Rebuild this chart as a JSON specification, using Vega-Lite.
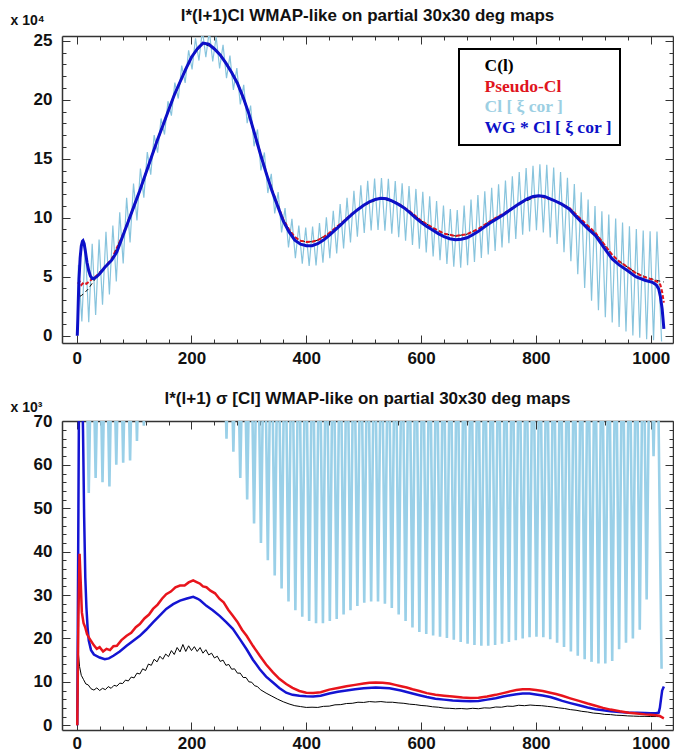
{
"$schema": "https://vega.github.io/schema/vega-lite/v6.json",
"padding": {"left": 10, "top": 6, "right": 0, "bottom": 0},
"background": "white",
"config": {
 "font": "Liberation Sans",
 "view": {"stroke": null},
 "axis": {"domainColor": "#333333", "domainWidth": 1.5, "tickColor": "#333333", "tickWidth": 1, "labelFont": "Liberation Sans", "labelFontWeight": "bold", "labelFontSize": 17, "labelColor": "#111111", "grid": false, "titleFont": "Liberation Sans", "titleFontWeight": "bold", "titleFontSize": 14, "titleColor": "#111111"},
 "title": {"font": "Liberation Sans", "fontSize": 17, "fontWeight": "bold", "color": "#111111", "anchor": "middle"},
 "concat": {"spacing": 20}
},
"datasets": {
 "t_lb": [{"l":2,"v":3.5},{"l":3,"v":6.0},{"l":9,"v":1.2},{"l":15,"v":7.7},{"l":21,"v":1.15},{"l":27,"v":7.8},{"l":33,"v":1.75},{"l":39,"v":8.15},{"l":45,"v":2.63},{"l":51,"v":8.8},{"l":57,"v":3.5},{"l":63,"v":9.34},{"l":69,"v":4.6},{"l":75,"v":10.45},{"l":81,"v":6.12},{"l":87,"v":11.68},{"l":93,"v":7.9},{"l":99,"v":12.9},{"l":105,"v":9.77},{"l":111,"v":14.17},{"l":117,"v":11.7},{"l":123,"v":15.56},{"l":129,"v":13.64},{"l":135,"v":17.0},{"l":141,"v":15.52},{"l":147,"v":18.41},{"l":153,"v":17.05},{"l":159,"v":19.87},{"l":165,"v":18.65},{"l":171,"v":21.45},{"l":177,"v":20.1},{"l":183,"v":22.89},{"l":189,"v":21.42},{"l":195,"v":24.19},{"l":201,"v":22.57},{"l":207,"v":25.2},{"l":213,"v":23.32},{"l":219,"v":25.89},{"l":225,"v":23.6},{"l":231,"v":25.83},{"l":237,"v":23.24},{"l":243,"v":25.34},{"l":249,"v":22.65},{"l":255,"v":24.65},{"l":261,"v":21.82},{"l":267,"v":23.74},{"l":273,"v":20.83},{"l":279,"v":22.69},{"l":285,"v":19.6},{"l":291,"v":21.26},{"l":297,"v":18.02},{"l":303,"v":19.5},{"l":309,"v":16.05},{"l":315,"v":17.48},{"l":321,"v":14.0},{"l":327,"v":15.53},{"l":333,"v":12.09},{"l":339,"v":13.72},{"l":345,"v":10.37},{"l":351,"v":12.17},{"l":357,"v":8.75},{"l":363,"v":10.81},{"l":369,"v":7.48},{"l":375,"v":9.9},{"l":381,"v":6.57},{"l":387,"v":9.34},{"l":393,"v":6.1},{"l":399,"v":9.16},{"l":405,"v":5.92},{"l":411,"v":9.24},{"l":417,"v":5.95},{"l":423,"v":9.54},{"l":429,"v":6.18},{"l":435,"v":10.03},{"l":441,"v":6.57},{"l":447,"v":10.59},{"l":453,"v":6.97},{"l":459,"v":11.15},{"l":465,"v":7.39},{"l":471,"v":11.68},{"l":477,"v":7.9},{"l":483,"v":12.29},{"l":489,"v":8.38},{"l":495,"v":12.75},{"l":501,"v":8.71},{"l":507,"v":13.12},{"l":513,"v":8.92},{"l":519,"v":13.32},{"l":525,"v":8.96},{"l":531,"v":13.36},{"l":537,"v":8.89},{"l":543,"v":13.3},{"l":549,"v":8.64},{"l":555,"v":13.11},{"l":561,"v":8.35},{"l":567,"v":12.92},{"l":573,"v":8.04},{"l":579,"v":12.69},{"l":585,"v":7.69},{"l":591,"v":12.44},{"l":597,"v":7.37},{"l":603,"v":12.2},{"l":609,"v":7.05},{"l":615,"v":11.81},{"l":621,"v":6.72},{"l":627,"v":11.42},{"l":633,"v":6.39},{"l":639,"v":11.04},{"l":645,"v":6.08},{"l":651,"v":10.74},{"l":657,"v":5.85},{"l":663,"v":10.66},{"l":669,"v":5.77},{"l":675,"v":11.03},{"l":681,"v":5.98},{"l":687,"v":11.53},{"l":693,"v":6.24},{"l":699,"v":11.92},{"l":705,"v":6.58},{"l":711,"v":12.23},{"l":717,"v":6.88},{"l":723,"v":12.53},{"l":729,"v":7.18},{"l":735,"v":12.83},{"l":741,"v":7.48},{"l":747,"v":13.16},{"l":753,"v":7.84},{"l":759,"v":13.52},{"l":765,"v":8.2},{"l":771,"v":13.88},{"l":777,"v":8.56},{"l":783,"v":14.21},{"l":789,"v":8.83},{"l":795,"v":14.4},{"l":801,"v":8.94},{"l":807,"v":14.53},{"l":813,"v":8.75},{"l":819,"v":14.49},{"l":825,"v":8.33},{"l":831,"v":14.26},{"l":837,"v":7.77},{"l":843,"v":13.87},{"l":849,"v":7.07},{"l":855,"v":13.39},{"l":861,"v":6.31},{"l":867,"v":12.85},{"l":873,"v":5.2},{"l":879,"v":12.16},{"l":885,"v":4.05},{"l":891,"v":11.55},{"l":897,"v":2.97},{"l":903,"v":10.98},{"l":909,"v":2.16},{"l":915,"v":10.55},{"l":921,"v":1.56},{"l":927,"v":10.26},{"l":933,"v":1.11},{"l":939,"v":9.94},{"l":945,"v":0.73},{"l":951,"v":9.6},{"l":957,"v":0.35},{"l":963,"v":9.28},{"l":969,"v":0.02},{"l":975,"v":9.04},{"l":981,"v":-0.18},{"l":987,"v":8.91},{"l":993,"v":-0.31},{"l":999,"v":8.85},{"l":1005,"v":-0.38},{"l":1011,"v":8.82},{"l":1019,"v":-0.5}],
 "t_black": [{"l":2,"v":2.8},{"l":4,"v":3.3},{"l":8,"v":3.4},{"l":12,"v":3.55},{"l":16,"v":3.75},{"l":20,"v":3.95},{"l":25,"v":4.3},{"l":30,"v":4.65},{"l":35,"v":5.0},{"l":40,"v":5.3},{"l":45,"v":5.6},{"l":61,"v":6.5},{"l":80,"v":8.5},{"l":90,"v":9.75},{"l":100,"v":11.0},{"l":120,"v":13.7},{"l":140,"v":16.5},{"l":160,"v":19.1},{"l":180,"v":21.5},{"l":200,"v":23.6},{"l":220,"v":24.8},{"l":240,"v":24.3},{"l":260,"v":23.1},{"l":280,"v":21.4},{"l":300,"v":18.8},{"l":320,"v":15.4},{"l":340,"v":12.35},{"l":350,"v":11.1},{"l":360,"v":9.85},{"l":370,"v":9.0},{"l":380,"v":8.35},{"l":390,"v":8.05},{"l":400,"v":7.95},{"l":410,"v":7.97},{"l":420,"v":8.1},{"l":440,"v":8.7},{"l":460,"v":9.5},{"l":480,"v":10.35},{"l":500,"v":11.05},{"l":530,"v":11.65},{"l":560,"v":11.2},{"l":580,"v":10.55},{"l":600,"v":9.75},{"l":620,"v":9.15},{"l":640,"v":8.65},{"l":660,"v":8.45},{"l":680,"v":8.6},{"l":700,"v":9.05},{"l":720,"v":9.7},{"l":742,"v":10.3},{"l":770,"v":11.15},{"l":805,"v":11.86},{"l":830,"v":11.5},{"l":858,"v":10.85},{"l":880,"v":9.8},{"l":904,"v":8.7},{"l":918,"v":7.8},{"l":933,"v":6.85},{"l":945,"v":6.3},{"l":960,"v":5.8},{"l":974,"v":5.35},{"l":990,"v":5.0},{"l":1003,"v":4.8},{"l":1014,"v":4.65},{"l":1023,"v":4.55}],
 "t_red": [{"l":2,"v":4.4},{"l":5,"v":4.6},{"l":8,"v":4.3},{"l":12,"v":4.5},{"l":17,"v":4.4},{"l":22,"v":4.6},{"l":28,"v":4.85},{"l":35,"v":5.1},{"l":45,"v":5.6},{"l":61,"v":6.5},{"l":80,"v":8.5},{"l":90,"v":9.75},{"l":100,"v":11.0},{"l":110,"v":12.3},{"l":120,"v":13.7},{"l":130,"v":15.1},{"l":140,"v":16.5},{"l":150,"v":17.8},{"l":160,"v":19.1},{"l":170,"v":20.4},{"l":180,"v":21.5},{"l":190,"v":22.6},{"l":200,"v":23.6},{"l":210,"v":24.3},{"l":220,"v":24.8},{"l":230,"v":24.7},{"l":240,"v":24.3},{"l":250,"v":23.8},{"l":260,"v":23.1},{"l":270,"v":22.3},{"l":280,"v":21.4},{"l":290,"v":20.2},{"l":300,"v":18.8},{"l":310,"v":17.1},{"l":320,"v":15.45},{"l":330,"v":13.85},{"l":340,"v":12.4},{"l":350,"v":11.1},{"l":360,"v":9.85},{"l":370,"v":9.0},{"l":380,"v":8.35},{"l":390,"v":8.05},{"l":400,"v":7.95},{"l":410,"v":7.97},{"l":420,"v":8.1},{"l":430,"v":8.35},{"l":440,"v":8.7},{"l":460,"v":9.5},{"l":480,"v":10.35},{"l":500,"v":11.05},{"l":520,"v":11.55},{"l":530,"v":11.65},{"l":540,"v":11.6},{"l":560,"v":11.2},{"l":580,"v":10.55},{"l":600,"v":9.75},{"l":620,"v":9.15},{"l":640,"v":8.65},{"l":660,"v":8.45},{"l":680,"v":8.6},{"l":700,"v":9.05},{"l":720,"v":9.7},{"l":742,"v":10.3},{"l":770,"v":11.15},{"l":785,"v":11.6},{"l":805,"v":11.86},{"l":830,"v":11.5},{"l":858,"v":10.85},{"l":880,"v":9.8},{"l":904,"v":8.7},{"l":918,"v":7.8},{"l":933,"v":6.85},{"l":945,"v":6.3},{"l":960,"v":5.8},{"l":974,"v":5.3},{"l":990,"v":4.95},{"l":1003,"v":4.75},{"l":1010,"v":4.6},{"l":1014,"v":4.5},{"l":1017,"v":4.3},{"l":1020,"v":3.7},{"l":1023,"v":2.8}],
 "t_blue": [{"l":1,"v":0},{"l":2,"v":1.5},{"l":3,"v":3.3},{"l":4,"v":4.8},{"l":6,"v":6.6},{"l":8,"v":7.6},{"l":10,"v":8.0},{"l":11,"v":8.05},{"l":13,"v":7.8},{"l":15,"v":7.2},{"l":18,"v":6.2},{"l":21,"v":5.5},{"l":24,"v":5.05},{"l":27,"v":4.85},{"l":30,"v":4.85},{"l":35,"v":5.0},{"l":40,"v":5.25},{"l":45,"v":5.55},{"l":50,"v":5.85},{"l":61,"v":6.4},{"l":70,"v":7.1},{"l":80,"v":8.4},{"l":90,"v":9.7},{"l":100,"v":11.0},{"l":110,"v":12.3},{"l":120,"v":13.7},{"l":130,"v":15.1},{"l":140,"v":16.5},{"l":150,"v":17.8},{"l":160,"v":19.1},{"l":170,"v":20.4},{"l":180,"v":21.5},{"l":190,"v":22.6},{"l":200,"v":23.6},{"l":210,"v":24.3},{"l":220,"v":24.8},{"l":230,"v":24.7},{"l":240,"v":24.3},{"l":250,"v":23.8},{"l":260,"v":23.1},{"l":270,"v":22.3},{"l":280,"v":21.4},{"l":290,"v":20.2},{"l":300,"v":18.8},{"l":310,"v":17.1},{"l":320,"v":15.4},{"l":330,"v":13.8},{"l":340,"v":12.3},{"l":350,"v":11.0},{"l":360,"v":9.7},{"l":370,"v":8.8},{"l":380,"v":8.1},{"l":390,"v":7.75},{"l":400,"v":7.62},{"l":410,"v":7.63},{"l":420,"v":7.8},{"l":430,"v":8.1},{"l":440,"v":8.5},{"l":450,"v":8.95},{"l":460,"v":9.4},{"l":470,"v":9.85},{"l":480,"v":10.3},{"l":490,"v":10.7},{"l":500,"v":11.05},{"l":510,"v":11.35},{"l":520,"v":11.55},{"l":530,"v":11.65},{"l":540,"v":11.6},{"l":550,"v":11.4},{"l":560,"v":11.15},{"l":570,"v":10.85},{"l":580,"v":10.45},{"l":590,"v":10.0},{"l":600,"v":9.6},{"l":610,"v":9.25},{"l":620,"v":8.95},{"l":630,"v":8.65},{"l":640,"v":8.4},{"l":650,"v":8.22},{"l":660,"v":8.14},{"l":670,"v":8.17},{"l":680,"v":8.3},{"l":690,"v":8.55},{"l":700,"v":8.85},{"l":710,"v":9.2},{"l":720,"v":9.55},{"l":730,"v":9.85},{"l":742,"v":10.2},{"l":755,"v":10.65},{"l":770,"v":11.15},{"l":785,"v":11.6},{"l":795,"v":11.8},{"l":805,"v":11.86},{"l":815,"v":11.8},{"l":830,"v":11.5},{"l":845,"v":11.15},{"l":858,"v":10.74},{"l":870,"v":10.1},{"l":880,"v":9.6},{"l":890,"v":9.1},{"l":904,"v":8.47},{"l":918,"v":7.5},{"l":933,"v":6.5},{"l":945,"v":6.0},{"l":960,"v":5.5},{"l":974,"v":5.0},{"l":990,"v":4.7},{"l":1003,"v":4.52},{"l":1010,"v":4.3},{"l":1014,"v":3.96},{"l":1017,"v":3.3},{"l":1020,"v":2.26},{"l":1023,"v":0.57}],
 "b_lb": [{"l":3,"v":100},{"l":9,"v":80},{"l":15,"v":100},{"l":21,"v":53.5},{"l":27,"v":100},{"l":33,"v":57},{"l":39,"v":100},{"l":45,"v":56},{"l":51,"v":100},{"l":57,"v":55},{"l":63,"v":100},{"l":69,"v":60},{"l":75,"v":100},{"l":81,"v":60.5},{"l":87,"v":100},{"l":93,"v":61},{"l":99,"v":100},{"l":105,"v":65.5},{"l":111,"v":100},{"l":117,"v":69},{"l":123,"v":100},{"l":129,"v":76},{"l":135,"v":100},{"l":141,"v":78},{"l":147,"v":100},{"l":153,"v":80},{"l":159,"v":100},{"l":165,"v":80},{"l":171,"v":100},{"l":177,"v":80},{"l":183,"v":100},{"l":189,"v":80},{"l":195,"v":100},{"l":201,"v":80},{"l":207,"v":100},{"l":213,"v":80},{"l":219,"v":100},{"l":225,"v":80},{"l":231,"v":100},{"l":237,"v":78},{"l":243,"v":100},{"l":249,"v":75},{"l":255,"v":100},{"l":261,"v":66},{"l":267,"v":100},{"l":273,"v":63},{"l":279,"v":100},{"l":285,"v":57},{"l":291,"v":100},{"l":297,"v":52},{"l":303,"v":100},{"l":309,"v":46.5},{"l":315,"v":100},{"l":321,"v":42},{"l":327,"v":100},{"l":333,"v":38},{"l":339,"v":100},{"l":345,"v":34.5},{"l":351,"v":100},{"l":357,"v":31.5},{"l":363,"v":100},{"l":369,"v":28.5},{"l":375,"v":100},{"l":381,"v":26.5},{"l":387,"v":100},{"l":393,"v":25},{"l":399,"v":100},{"l":405,"v":24},{"l":411,"v":100},{"l":417,"v":23.5},{"l":423,"v":100},{"l":429,"v":23.5},{"l":435,"v":100},{"l":441,"v":24},{"l":447,"v":100},{"l":453,"v":24.5},{"l":459,"v":100},{"l":465,"v":25.5},{"l":471,"v":100},{"l":477,"v":26.5},{"l":483,"v":100},{"l":489,"v":27.5},{"l":495,"v":100},{"l":501,"v":28.2},{"l":507,"v":100},{"l":513,"v":28.5},{"l":519,"v":100},{"l":525,"v":28.5},{"l":531,"v":100},{"l":537,"v":28},{"l":543,"v":100},{"l":549,"v":27},{"l":555,"v":100},{"l":561,"v":25.5},{"l":567,"v":100},{"l":573,"v":24},{"l":579,"v":100},{"l":585,"v":22.5},{"l":591,"v":100},{"l":597,"v":21.5},{"l":603,"v":100},{"l":609,"v":21},{"l":615,"v":100},{"l":621,"v":20.7},{"l":627,"v":100},{"l":633,"v":20.4},{"l":639,"v":100},{"l":645,"v":20.1},{"l":651,"v":100},{"l":657,"v":19.7},{"l":663,"v":100},{"l":669,"v":19.2},{"l":675,"v":100},{"l":681,"v":18.8},{"l":687,"v":100},{"l":693,"v":18.5},{"l":699,"v":100},{"l":705,"v":18.3},{"l":711,"v":100},{"l":717,"v":18.3},{"l":723,"v":100},{"l":729,"v":18.5},{"l":735,"v":100},{"l":741,"v":18.8},{"l":747,"v":100},{"l":753,"v":19.2},{"l":759,"v":100},{"l":765,"v":19.6},{"l":771,"v":100},{"l":777,"v":20},{"l":783,"v":100},{"l":789,"v":20.3},{"l":795,"v":100},{"l":801,"v":20.4},{"l":807,"v":100},{"l":813,"v":20.3},{"l":819,"v":100},{"l":825,"v":19.8},{"l":831,"v":100},{"l":837,"v":19},{"l":843,"v":100},{"l":849,"v":18},{"l":855,"v":100},{"l":861,"v":17},{"l":867,"v":100},{"l":873,"v":16},{"l":879,"v":100},{"l":885,"v":15.2},{"l":891,"v":100},{"l":897,"v":14.6},{"l":903,"v":100},{"l":909,"v":14.2},{"l":915,"v":100},{"l":921,"v":14.2},{"l":927,"v":100},{"l":933,"v":14.8},{"l":939,"v":100},{"l":945,"v":17.5},{"l":951,"v":100},{"l":957,"v":19},{"l":963,"v":100},{"l":969,"v":20},{"l":975,"v":100},{"l":981,"v":22},{"l":987,"v":100},{"l":993,"v":29},{"l":999,"v":100},{"l":1005,"v":62},{"l":1011,"v":100},{"l":1019,"v":13}],
 "b_black": [{"l":1,"v":0},{"l":2,"v":9},{"l":3,"v":16.5},{"l":5,"v":13.5},{"l":8,"v":11.5},{"l":12,"v":10.5},{"l":16,"v":9.5},{"l":20,"v":9.3},{"l":25,"v":8.4},{"l":30,"v":8.1},{"l":35,"v":8.6},{"l":40,"v":8.0},{"l":45,"v":8.5},{"l":50,"v":8.2},{"l":55,"v":8.9},{"l":60,"v":8.5},{"l":65,"v":9.2},{"l":70,"v":9.0},{"l":75,"v":9.7},{"l":80,"v":9.6},{"l":85,"v":10.4},{"l":90,"v":10.2},{"l":95,"v":11.1},{"l":100,"v":10.9},{"l":105,"v":12.0},{"l":110,"v":11.8},{"l":115,"v":13.0},{"l":120,"v":12.6},{"l":125,"v":14.1},{"l":130,"v":13.8},{"l":135,"v":15.2},{"l":140,"v":14.6},{"l":145,"v":15.9},{"l":150,"v":15.2},{"l":155,"v":16.4},{"l":160,"v":15.8},{"l":165,"v":17.2},{"l":170,"v":16.3},{"l":175,"v":17.9},{"l":180,"v":16.9},{"l":185,"v":18.6},{"l":190,"v":17.0},{"l":195,"v":18.3},{"l":200,"v":17.2},{"l":205,"v":18.1},{"l":210,"v":17.0},{"l":215,"v":17.9},{"l":220,"v":16.6},{"l":225,"v":17.4},{"l":230,"v":16.2},{"l":235,"v":16.6},{"l":240,"v":15.5},{"l":245,"v":15.9},{"l":250,"v":14.7},{"l":255,"v":15.0},{"l":260,"v":13.8},{"l":265,"v":14.0},{"l":270,"v":12.9},{"l":275,"v":13.0},{"l":280,"v":12.0},{"l":285,"v":12.0},{"l":290,"v":11.0},{"l":295,"v":11.0},{"l":300,"v":10.0},{"l":305,"v":9.9},{"l":310,"v":9.1},{"l":315,"v":8.9},{"l":320,"v":8.2},{"l":330,"v":7.4},{"l":340,"v":6.7},{"l":350,"v":6.0},{"l":360,"v":5.4},{"l":370,"v":4.9},{"l":380,"v":4.5},{"l":390,"v":4.3},{"l":400,"v":4.1},{"l":410,"v":4.15},{"l":420,"v":4.1},{"l":430,"v":4.35},{"l":440,"v":4.4},{"l":450,"v":4.7},{"l":460,"v":4.75},{"l":470,"v":5.0},{"l":480,"v":5.05},{"l":490,"v":5.3},{"l":500,"v":5.25},{"l":510,"v":5.45},{"l":520,"v":5.35},{"l":530,"v":5.45},{"l":540,"v":5.3},{"l":550,"v":5.3},{"l":560,"v":5.15},{"l":570,"v":5.05},{"l":580,"v":4.85},{"l":590,"v":4.75},{"l":600,"v":4.55},{"l":610,"v":4.45},{"l":620,"v":4.25},{"l":630,"v":4.15},{"l":640,"v":3.95},{"l":650,"v":3.9},{"l":660,"v":3.8},{"l":670,"v":3.85},{"l":680,"v":3.75},{"l":690,"v":3.9},{"l":700,"v":3.8},{"l":710,"v":4.0},{"l":720,"v":3.95},{"l":730,"v":4.2},{"l":740,"v":4.15},{"l":750,"v":4.4},{"l":760,"v":4.35},{"l":770,"v":4.6},{"l":780,"v":4.5},{"l":790,"v":4.65},{"l":800,"v":4.55},{"l":810,"v":4.5},{"l":820,"v":4.35},{"l":830,"v":4.2},{"l":840,"v":4.0},{"l":850,"v":3.85},{"l":860,"v":3.6},{"l":870,"v":3.45},{"l":880,"v":3.2},{"l":890,"v":3.05},{"l":900,"v":2.8},{"l":910,"v":2.7},{"l":920,"v":2.5},{"l":930,"v":2.45},{"l":940,"v":2.3},{"l":950,"v":2.25},{"l":960,"v":2.15},{"l":970,"v":2.1},{"l":980,"v":2.05},{"l":990,"v":2.05},{"l":1000,"v":2.0},{"l":1010,"v":2.0},{"l":1020,"v":1.95}],
 "b_red": [{"l":1,"v":0},{"l":3,"v":25},{"l":5,"v":39.5},{"l":7,"v":33},{"l":9,"v":26},{"l":12,"v":23.5},{"l":15,"v":22.5},{"l":18,"v":21},{"l":23,"v":19.8},{"l":30,"v":18.4},{"l":35,"v":17.6},{"l":40,"v":18.0},{"l":46,"v":17.0},{"l":52,"v":17.6},{"l":58,"v":17.3},{"l":64,"v":18.2},{"l":70,"v":18.3},{"l":78,"v":19.6},{"l":87,"v":20.6},{"l":95,"v":21.3},{"l":103,"v":22.6},{"l":110,"v":23.3},{"l":118,"v":24.6},{"l":126,"v":25.5},{"l":133,"v":26.8},{"l":141,"v":27.8},{"l":149,"v":29.2},{"l":156,"v":30.2},{"l":164,"v":30.8},{"l":172,"v":31.8},{"l":180,"v":32.2},{"l":188,"v":32.2},{"l":195,"v":32.9},{"l":203,"v":33.4},{"l":209,"v":33.0},{"l":215,"v":32.6},{"l":220,"v":32.0},{"l":226,"v":31.8},{"l":233,"v":31.0},{"l":241,"v":30.4},{"l":249,"v":29.1},{"l":256,"v":28.3},{"l":264,"v":26.6},{"l":272,"v":25.2},{"l":280,"v":23.8},{"l":288,"v":22.0},{"l":296,"v":20.6},{"l":307,"v":18.3},{"l":319,"v":16.0},{"l":330,"v":14.0},{"l":342,"v":12.2},{"l":353,"v":10.7},{"l":365,"v":9.5},{"l":376,"v":8.6},{"l":388,"v":7.9},{"l":400,"v":7.5},{"l":412,"v":7.4},{"l":425,"v":7.6},{"l":440,"v":8.2},{"l":455,"v":8.6},{"l":470,"v":9.0},{"l":485,"v":9.3},{"l":500,"v":9.6},{"l":510,"v":9.8},{"l":521,"v":9.85},{"l":533,"v":9.8},{"l":545,"v":9.6},{"l":555,"v":9.3},{"l":565,"v":9.0},{"l":575,"v":8.7},{"l":585,"v":8.3},{"l":597,"v":7.9},{"l":610,"v":7.4},{"l":625,"v":7.0},{"l":640,"v":6.8},{"l":655,"v":6.6},{"l":672,"v":6.4},{"l":686,"v":6.3},{"l":700,"v":6.35},{"l":715,"v":6.6},{"l":730,"v":7.0},{"l":743,"v":7.4},{"l":755,"v":7.8},{"l":766,"v":8.1},{"l":777,"v":8.3},{"l":789,"v":8.3},{"l":800,"v":8.1},{"l":812,"v":7.9},{"l":825,"v":7.5},{"l":835,"v":7.2},{"l":846,"v":6.8},{"l":860,"v":6.2},{"l":875,"v":5.6},{"l":890,"v":5.0},{"l":904,"v":4.5},{"l":917,"v":4.0},{"l":930,"v":3.6},{"l":946,"v":3.2},{"l":962,"v":2.9},{"l":976,"v":2.7},{"l":990,"v":2.5},{"l":1000,"v":2.4},{"l":1009,"v":2.3},{"l":1015,"v":2.2},{"l":1020,"v":1.8},{"l":1023,"v":1.6}],
 "b_blue": [{"l":1,"v":0},{"l":2,"v":25},{"l":3,"v":50},{"l":4,"v":75},{"l":8,"v":90},{"l":11,"v":68},{"l":13,"v":48},{"l":15,"v":34},{"l":17,"v":27},{"l":19,"v":22.5},{"l":21,"v":19.5},{"l":25,"v":17.3},{"l":30,"v":16.3},{"l":40,"v":15.6},{"l":49,"v":15.2},{"l":56,"v":15.4},{"l":64,"v":16.0},{"l":75,"v":17.0},{"l":87,"v":18.3},{"l":98,"v":19.4},{"l":110,"v":20.6},{"l":121,"v":22.0},{"l":133,"v":23.7},{"l":145,"v":25.3},{"l":156,"v":26.8},{"l":168,"v":27.9},{"l":180,"v":28.7},{"l":192,"v":29.2},{"l":203,"v":29.6},{"l":210,"v":29.2},{"l":215,"v":28.8},{"l":226,"v":27.5},{"l":237,"v":26.5},{"l":249,"v":25.2},{"l":260,"v":23.8},{"l":272,"v":22.2},{"l":284,"v":19.9},{"l":296,"v":17.5},{"l":307,"v":15.1},{"l":319,"v":12.9},{"l":330,"v":11.2},{"l":342,"v":9.85},{"l":353,"v":8.6},{"l":365,"v":7.5},{"l":376,"v":7.0},{"l":388,"v":6.8},{"l":400,"v":6.65},{"l":412,"v":6.6},{"l":425,"v":6.8},{"l":440,"v":7.3},{"l":455,"v":7.7},{"l":470,"v":8.0},{"l":485,"v":8.3},{"l":500,"v":8.5},{"l":521,"v":8.7},{"l":545,"v":8.5},{"l":565,"v":8.0},{"l":585,"v":7.3},{"l":597,"v":6.9},{"l":610,"v":6.5},{"l":625,"v":6.1},{"l":640,"v":5.9},{"l":655,"v":5.7},{"l":672,"v":5.6},{"l":686,"v":5.55},{"l":700,"v":5.6},{"l":715,"v":5.9},{"l":730,"v":6.2},{"l":743,"v":6.6},{"l":755,"v":6.9},{"l":766,"v":7.15},{"l":777,"v":7.3},{"l":789,"v":7.3},{"l":800,"v":7.1},{"l":812,"v":6.85},{"l":825,"v":6.5},{"l":835,"v":6.1},{"l":846,"v":5.6},{"l":860,"v":5.1},{"l":875,"v":4.6},{"l":890,"v":4.1},{"l":904,"v":3.7},{"l":917,"v":3.45},{"l":930,"v":3.2},{"l":946,"v":3.05},{"l":962,"v":2.9},{"l":976,"v":2.85},{"l":990,"v":2.8},{"l":1000,"v":2.78},{"l":1009,"v":2.77},{"l":1014,"v":2.9},{"l":1016,"v":4.0},{"l":1018,"v":6.0},{"l":1020,"v":8.0},{"l":1023,"v":8.9}]
},
"vconcat": [
 {
  "width": 611, "height": 307,
  "title": {"text": "l*(l+1)Cl WMAP-like on partial 30x30 deg maps", "offset": -11.5},
  "layer": [
   {"data": {"name": "t_lb"}, "mark": {"type": "line", "clip": true, "strokeWidth": 1.2},
    "encoding": {
     "x": {"field": "l", "type": "quantitative", "scale": {"domain": [-25.6, 1038.9], "nice": false, "zero": false},
       "axis": {"orient": "bottom", "title": null, "values": [0,40,80,120,160,200,240,280,320,360,400,440,480,520,560,600,640,680,720,760,800,840,880,920,960,1000], "format": "d", "labelExpr": "datum.value % 200 === 0 ? datum.label : ''", "tickSize": {"expr": "datum.value % 200 === 0 ? -8 : -4"}, "labelPadding": 15, "labelFlush": false, "labelOverlap": false}},
     "y": {"field": "v", "type": "quantitative", "scale": {"domain": [-0.62, 25.4], "nice": false, "zero": false},
       "axis": {"orient": "left", "values": [0,1,2,3,4,5,6,7,8,9,10,11,12,13,14,15,16,17,18,19,20,21,22,23,24,25], "format": "d", "labelExpr": "datum.value % 5 === 0 ? datum.label : ''", "tickSize": {"expr": "datum.value % 5 === 0 ? -8 : -4"}, "labelPadding": 18, "labelFlush": false, "labelOverlap": false, "title": "x 10⁴", "titleAngle": 0, "titleAlign": "left", "titleBaseline": "alphabetic", "titleX": -52, "titleY": -12}},
     "color": {"datum": "Cl [ ξ cor ]", "type": "nominal",
       "scale": {"domain": ["C(l)", "Pseudo-Cl", "Cl [ ξ cor ]", "WG * Cl [ ξ cor ]"], "range": ["#000000", "#e0141c", "#88c4dd", "#0c10c8"]},
       "legend": {"orient": "none", "legendX": 397, "legendY": 13, "title": null, "direction": "vertical", "strokeColor": "#000000", "fillColor": "#ffffff", "padding": 8, "rowPadding": 1.8, "symbolSize": 0, "symbolOpacity": 0, "symbolStrokeWidth": 0, "labelOffset": 0, "labelFont": "Liberation Serif", "labelFontSize": 17.5, "labelFontWeight": "bold", "labelLimit": 300,
         "encode": {"legend": {"update": {"strokeWidth": {"value": 2}}}, "labels": {"update": {"fill": {"signal": "datum.value === 'C(l)' ? '#000000' : datum.value === 'Pseudo-Cl' ? '#e0141c' : datum.value === 'WG * Cl [ ξ cor ]' ? '#0c10c8' : '#9ccfe3'"}}}}}}
    }},
   {"data": {"name": "t_black"}, "mark": {"type": "line", "clip": true, "strokeWidth": 1, "strokeDash": [4, 3]},
    "encoding": {
     "x": {"field": "l", "type": "quantitative", "scale": {"domain": [-25.6, 1038.9], "nice": false, "zero": false}, "axis": null},
     "y": {"field": "v", "type": "quantitative", "scale": {"domain": [-0.62, 25.4], "nice": false, "zero": false}, "axis": null},
     "color": {"datum": "C(l)", "type": "nominal"}
    }},
   {"data": {"name": "t_red"}, "mark": {"type": "line", "clip": true, "strokeWidth": 2, "strokeDash": [4, 2]},
    "encoding": {
     "x": {"field": "l", "type": "quantitative", "scale": {"domain": [-25.6, 1038.9], "nice": false, "zero": false}, "axis": null},
     "y": {"field": "v", "type": "quantitative", "scale": {"domain": [-0.62, 25.4], "nice": false, "zero": false}, "axis": null},
     "color": {"datum": "Pseudo-Cl", "type": "nominal"}
    }},
   {"data": {"name": "t_blue"}, "mark": {"type": "line", "clip": true, "strokeWidth": 3},
    "encoding": {
     "x": {"field": "l", "type": "quantitative", "scale": {"domain": [-25.6, 1038.9], "nice": false, "zero": false}, "axis": null},
     "y": {"field": "v", "type": "quantitative", "scale": {"domain": [-0.62, 25.4], "nice": false, "zero": false}, "axis": null},
     "color": {"datum": "WG * Cl [ ξ cor ]", "type": "nominal"}
    }},
   {"data": {"name": "t_blue"}, "mark": {"type": "line", "clip": true, "strokeOpacity": 0},
    "encoding": {
     "x": {"field": "l", "type": "quantitative", "scale": {"domain": [-25.6, 1038.9], "nice": false, "zero": false},
       "axis": {"orient": "top", "title": null, "labels": false, "values": [0,40,80,120,160,200,240,280,320,360,400,440,480,520,560,600,640,680,720,760,800,840,880,920,960,1000], "tickSize": {"expr": "datum.value % 200 === 0 ? -8 : -4"}}},
     "y": {"field": "v", "type": "quantitative", "scale": {"domain": [-0.62, 25.4], "nice": false, "zero": false},
       "axis": {"orient": "right", "title": null, "labels": false, "values": [0,1,2,3,4,5,6,7,8,9,10,11,12,13,14,15,16,17,18,19,20,21,22,23,24,25], "tickSize": {"expr": "datum.value % 5 === 0 ? -8 : -4"}}}
    }}
  ],
  "resolve": {"axis": {"x": "independent", "y": "independent"}}
 },
 {
  "width": 611, "height": 309,
  "title": {"text": "l*(l+1) σ [Cl] WMAP-like on partial 30x30 deg maps", "offset": -8},
  "layer": [
   {"data": {"name": "b_lb"}, "mark": {"type": "line", "clip": true, "strokeWidth": 2.6, "color": "#9ad0e8"},
    "encoding": {
     "x": {"field": "l", "type": "quantitative", "scale": {"domain": [-25.6, 1038.9], "nice": false, "zero": false},
       "axis": {"orient": "bottom", "title": null, "values": [0,40,80,120,160,200,240,280,320,360,400,440,480,520,560,600,640,680,720,760,800,840,880,920,960,1000], "format": "d", "labelExpr": "datum.value % 200 === 0 ? datum.label : ''", "tickSize": {"expr": "datum.value % 200 === 0 ? -8 : -4"}, "labelPadding": 13, "labelFlush": false, "labelOverlap": false}},
     "y": {"field": "v", "type": "quantitative", "scale": {"domain": [-1.1, 70.1], "nice": false, "zero": false},
       "axis": {"orient": "left", "values": [0,2,4,6,8,10,12,14,16,18,20,22,24,26,28,30,32,34,36,38,40,42,44,46,48,50,52,54,56,58,60,62,64,66,68,70], "format": "d", "labelExpr": "datum.value % 10 === 0 ? datum.label : ''", "tickSize": {"expr": "datum.value % 10 === 0 ? -8 : -4"}, "labelPadding": 18, "labelFlush": false, "labelOverlap": false, "title": "x 10³", "titleAngle": 0, "titleAlign": "left", "titleBaseline": "alphabetic", "titleX": -52, "titleY": -10}}
    }},
   {"data": {"name": "b_black"}, "mark": {"type": "line", "clip": true, "strokeWidth": 1, "color": "#000000"},
    "encoding": {
     "x": {"field": "l", "type": "quantitative", "scale": {"domain": [-25.6, 1038.9], "nice": false, "zero": false}, "axis": null},
     "y": {"field": "v", "type": "quantitative", "scale": {"domain": [-1.1, 70.1], "nice": false, "zero": false}, "axis": null}
    }},
   {"data": {"name": "b_blue"}, "mark": {"type": "line", "clip": true, "strokeWidth": 2.5, "color": "#1414d2"},
    "encoding": {
     "x": {"field": "l", "type": "quantitative", "scale": {"domain": [-25.6, 1038.9], "nice": false, "zero": false}, "axis": null},
     "y": {"field": "v", "type": "quantitative", "scale": {"domain": [-1.1, 70.1], "nice": false, "zero": false}, "axis": null}
    }},
   {"data": {"name": "b_red"}, "mark": {"type": "line", "clip": true, "strokeWidth": 2.5, "color": "#e8141c"},
    "encoding": {
     "x": {"field": "l", "type": "quantitative", "scale": {"domain": [-25.6, 1038.9], "nice": false, "zero": false}, "axis": null},
     "y": {"field": "v", "type": "quantitative", "scale": {"domain": [-1.1, 70.1], "nice": false, "zero": false}, "axis": null}
    }},
   {"data": {"name": "b_blue"}, "mark": {"type": "line", "clip": true, "strokeOpacity": 0},
    "encoding": {
     "x": {"field": "l", "type": "quantitative", "scale": {"domain": [-25.6, 1038.9], "nice": false, "zero": false},
       "axis": {"orient": "top", "title": null, "labels": false, "values": [0,40,80,120,160,200,240,280,320,360,400,440,480,520,560,600,640,680,720,760,800,840,880,920,960,1000], "tickSize": {"expr": "datum.value % 200 === 0 ? -8 : -4"}}},
     "y": {"field": "v", "type": "quantitative", "scale": {"domain": [-1.1, 70.1], "nice": false, "zero": false},
       "axis": {"orient": "right", "title": null, "labels": false, "values": [0,2,4,6,8,10,12,14,16,18,20,22,24,26,28,30,32,34,36,38,40,42,44,46,48,50,52,54,56,58,60,62,64,66,68,70], "tickSize": {"expr": "datum.value % 10 === 0 ? -8 : -4"}}}
    }}
  ],
  "resolve": {"axis": {"x": "independent", "y": "independent"}}
 }
]
}
